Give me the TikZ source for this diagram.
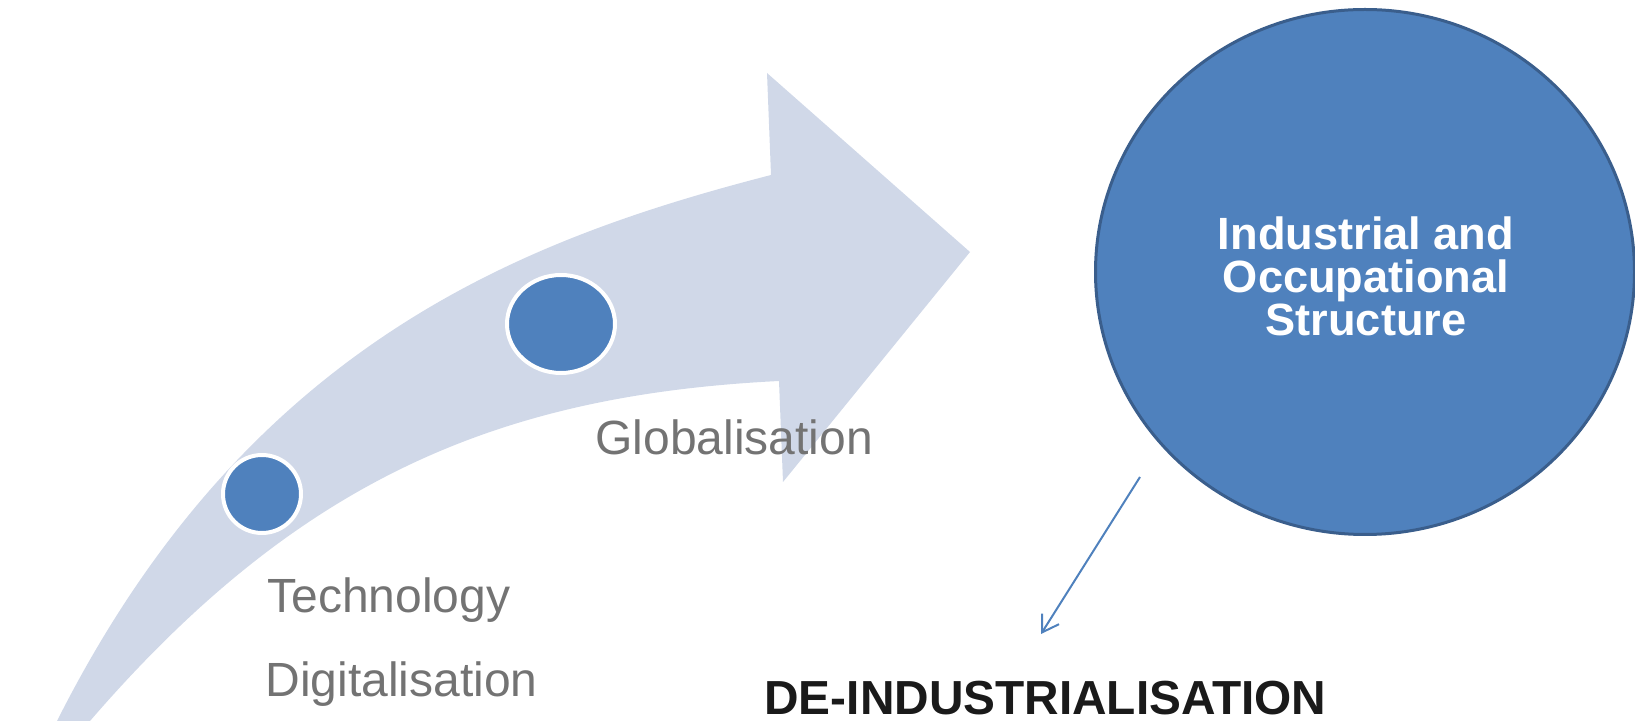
\documentclass[tikz,border=0pt]{standalone}
\usepackage{fontspec}
\setmainfont{Liberation Sans}
\usetikzlibrary{shapes.geometric,arrows.meta}
\definecolor{bandcol}{HTML}{D0D8E8}
\definecolor{dotcol}{HTML}{4F81BD}
\definecolor{rimcol}{HTML}{3A5E8C}
\definecolor{labelcol}{HTML}{737373}
\definecolor{heavycol}{HTML}{1A1A1A}
\begin{document}
\begin{tikzpicture}[x=0.5pt,y=-0.5pt,
  graylabel/.style={text=labelcol, font=\fontsize{24pt}{28pt}\selectfont, inner sep=0pt, anchor=base west},
  boldlabel/.style={text=heavycol, font=\fontsize{23.9pt}{28pt}\selectfont\bfseries, inner sep=0pt, anchor=base west},
  smalldot/.style={circle, fill=dotcol, draw=white, line width=2pt, inner sep=0pt},
  bigdisc/.style={ellipse, fill=dotcol, draw=rimcol, line width=1.5pt, inner sep=0pt,
    minimum width=269.5pt, minimum height=262.5pt},
  titletext/.style={align=center, text=white, inner sep=0pt,
    font=\fontsize{22.6pt}{21.5pt}\selectfont\bfseries},
  pointer/.style={draw=dotcol, line width=1pt, -{Straight Barb[length=8pt,width=10pt]}}
]
\useasboundingbox (0,0) rectangle (1635,721);
\clip (0,0) rectangle (1635,721);
% curved band arrow
\fill[bandcol] (57,721) .. controls (246,346) and (519,240) .. (771,175)
  -- (767,73) -- (970,252) -- (783,482) -- (779,381)
  .. controls (499,395) and (299,479) .. (90,721)
  -- cycle;
% dots on the band
\node[smalldot, minimum size=39pt] (dota) at (262,494) {};
\node[smalldot, ellipse, minimum width=54pt, minimum height=49pt] (dotb) at (561,324) {};
% labels
\node[graylabel] (glob) at (595,455) {Globalisation};
\node[graylabel] (tech) at (267,613) {Technology};
\node[graylabel] (digi) at (265,697) {Digitalisation};
% big circle
\node[bigdisc] (ios) at (1365,272) {};
\node[titletext] (title) at (1366,276) {Industrial and\\Occupational\\Structure};
% pointer
\coordinate (pstart) at (1140,477);
\coordinate (pend) at (1041,634);
\draw[pointer] (pstart) -- (pend);
\node[boldlabel] (deind) at (764,715) {DE-INDUSTRIALISATION};
\end{tikzpicture}
\end{document}
